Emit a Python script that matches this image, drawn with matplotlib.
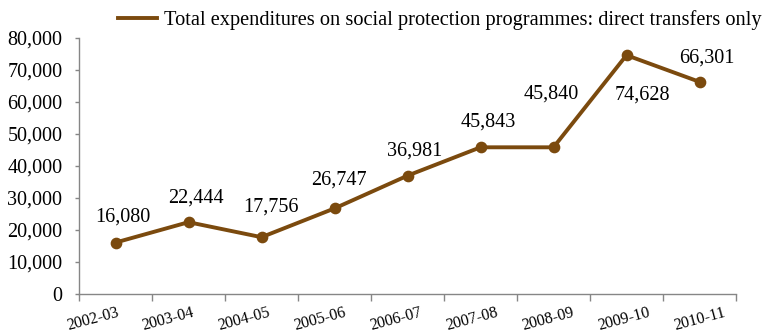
import matplotlib
matplotlib.use("Agg")
import matplotlib.pyplot as plt
import matplotlib.transforms as mtransforms
from matplotlib.ticker import FuncFormatter

plt.rcParams['font.family'] = ['Liberation Serif', 'DejaVu Serif']

years = ["2002-03", "2003-04", "2004-05", "2005-06", "2006-07",
         "2007-08", "2008-09", "2009-10", "2010-11"]
spending = [16080, 22444, 17756, 26747, 36981, 45843, 45840, 74628, 66301]
series_name = "Total expenditures on social protection programmes: direct transfers only"

# where each value label sits relative to its point (pixels, y up)
label_offsets = [(7, 25), (7, 24), (9, 30), (4, 28), (7, 25),
                 (8, 25), (-2, 53), (16, -40), (7, 24)]

brown = "#7b4a0e"
grey = "#868686"

fig = plt.figure(figsize=(7.69, 3.34), dpi=100)
ax = fig.add_axes([79 / 769, 1 - 294 / 334, (736 - 79) / 769, (294 - 38) / 334])

x = list(range(len(years)))
line, = ax.plot(x, spending, color=brown, lw=2.8, marker="o", ms=7.4,
                solid_joinstyle="round", label=series_name, clip_on=False)

for xi, v, (dx, dy) in zip(x, spending, label_offsets):
    ax.annotate(f"{v:,}", (xi, v), xytext=(dx, dy), textcoords="offset pixels",
                ha="center", va="center", fontsize=14.5, color="black")

ax.set_xlim(-0.5, len(years) - 0.5)
ax.set_ylim(0, 80000)
ax.set_yticks(range(0, 80001, 10000))
ax.yaxis.set_major_formatter(FuncFormatter(lambda v, p: f"{int(v):,}"))

# category boundaries carry the tick marks, labels sit under the categories
ax.set_xticks([i - 0.5 for i in range(len(years) + 1)])
ax.set_xticklabels([])
ax.set_xticks(x, minor=True)
ax.set_xticklabels(years, minor=True, rotation=15, fontsize=11.5,
                   ha="center", va="center")
ax.tick_params(axis="x", which="minor", length=0, pad=18)
ax.tick_params(axis="x", which="major", length=5, width=1, color=grey, direction="out")
ax.tick_params(axis="y", length=3, width=1, color=grey, direction="out",
               labelsize=14.5, pad=9)

# labels drift left toward the start of the axis
n = len(years)
for i, lbl in enumerate(ax.get_xticklabels(minor=True)):
    shift = -23 + 23 * i / (n - 1)
    lbl.set_transform(lbl.get_transform() +
                      mtransforms.ScaledTranslation(shift / 100, 0, fig.dpi_scale_trans))

for side in ("top", "right"):
    ax.spines[side].set_visible(False)
for side in ("left", "bottom"):
    ax.spines[side].set_color(grey)
    ax.spines[side].set_linewidth(1)

fig.legend(handles=[line], loc="center left", frameon=False,
           bbox_to_anchor=(118 / 769, 1 - 20 / 334), fontsize=14.7,
           handlelength=1.9, handletextpad=0.35, borderpad=0, borderaxespad=0)
line_handle = fig.legends[0].legend_handles[0]
line_handle.set_marker("")

fig.savefig("out.png", dpi=100)
